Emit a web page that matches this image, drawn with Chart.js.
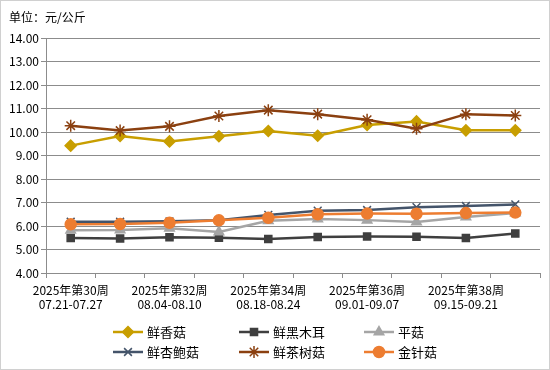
<!DOCTYPE html>
<html>
<head>
<meta charset="utf-8">
<script src="https://cdn.jsdelivr.net/npm/chart.js@4"></script>
<style>
  html, body { margin: 0; padding: 0; background: #fff; }
  #wrap { width: 550px; height: 370px; position: relative; }
</style>
</head>
<body>
<div id="wrap"><canvas id="priceChart" width="550" height="370"></canvas></div>
<script>
const weeks = ["2025年第30周", "2025年第31周", "2025年第32周", "2025年第33周", "2025年第34周",
  "2025年第35周", "2025年第36周", "2025年第37周", "2025年第38周", "2025年第39周"];
const dates = ["07.21-07.27", "07.28-08.03", "08.04-08.10", "08.11-08.17", "08.18-08.24",
  "08.25-08.31", "09.01-09.07", "09.08-09.14", "09.15-09.21", "09.22-09.28"];

const seriesNames = ["鲜香菇", "鲜黑木耳", "平菇", "鲜杏鲍菇", "鲜茶树菇", "金针菇"];
const xianxianggu = [9.42, 9.83, 9.60, 9.82, 10.04, 9.84, 10.30, 10.45, 10.07, 10.07];
const heimuer = [5.49, 5.47, 5.52, 5.50, 5.45, 5.53, 5.55, 5.54, 5.49, 5.68];
const pinggu = [5.82, 5.83, 5.90, 5.75, 6.22, 6.30, 6.25, 6.17, 6.38, 6.55];
const xingbaogu = [6.18, 6.18, 6.20, 6.25, 6.47, 6.65, 6.68, 6.80, 6.85, 6.92];
const chashugu = [10.27, 10.06, 10.24, 10.68, 10.93, 10.76, 10.52, 10.14, 10.76, 10.70];
const jinzhengu = [6.07, 6.08, 6.14, 6.24, 6.35, 6.50, 6.53, 6.52, 6.55, 6.57];

const FONT = "'Noto Sans CJK SC', 'DejaVu Sans', sans-serif";
const gridGray = "#8c8c8c";

const styles = [
  { color: "#C89E00", point: "rectRot", radius: 5.5 },
  { color: "#3f3f3f", point: "rect", radius: 5 },
  { color: "#a5a5a5", point: "triangle", radius: 5.5 },
  { color: "#44546a", point: "crossRot", radius: 5.5 },
  { color: "#8b4010", point: "star", radius: 6 },
  { color: "#ed7d31", point: "circle", radius: 5.5 }
];
const values = [xianxianggu, heimuer, pinggu, xingbaogu, chashugu, jinzhengu];

const datasets = values.map((v, i) => ({
  label: seriesNames[i],
  data: v,
  borderColor: styles[i].color,
  backgroundColor: styles[i].color,
  pointBackgroundColor: styles[i].color,
  pointBorderColor: styles[i].color,
  pointStyle: styles[i].point,
  pointRadius: styles[i].radius,
  pointBorderWidth: 1.5,
  borderWidth: 2.5,
  tension: 0,
  order: 6 - i
}));

// title, frame and the legend drawn on the canvas
const extras = {
  id: "extras",
  beforeDraw(chart) {
    const ctx = chart.ctx;
    ctx.save();
    ctx.fillStyle = "#fff";
    ctx.fillRect(0, 0, chart.width, chart.height);
    ctx.restore();
  },
  afterDraw(chart) {
    const ctx = chart.ctx;
    ctx.save();
    ctx.strokeStyle = "#d0d0d0";
    ctx.lineWidth = 1;
    ctx.strokeRect(0.5, 0.5, chart.width - 1, chart.height - 1);

    ctx.fillStyle = "#000";
    ctx.font = "12px " + FONT;
    ctx.textBaseline = "middle";
    ctx.textAlign = "left";
    ctx.fillText("单位：元/公斤", 9, 17);

    const colX = [113, 239, 364];
    const rowY = [332, 352];
    ctx.font = "13px " + FONT;
    chart.data.datasets.forEach((ds, i) => {
      const x = colX[i % 3], y = rowY[Math.floor(i / 3)];
      ctx.strokeStyle = ds.borderColor;
      ctx.fillStyle = ds.borderColor;
      ctx.lineWidth = 2.5;
      ctx.beginPath();
      ctx.moveTo(x, y);
      ctx.lineTo(x + 30, y);
      ctx.stroke();
      ctx.lineWidth = 1.5;
      Chart.helpers.drawPoint(ctx, { pointStyle: ds.pointStyle, radius: ds.pointRadius, rotation: 0, borderWidth: 1.5 }, x + 15, y);
      ctx.fillStyle = "#000";
      ctx.fillText(ds.label, x + 34, y);
    });
    ctx.restore();
  }
};

new Chart(document.getElementById("priceChart"), {
  type: "line",
  data: { labels: weeks, datasets: datasets },
  plugins: [extras],
  options: {
    responsive: false,
    animation: false,
    layout: { padding: { left: 0, right: 10, top: 38, bottom: 57 } },
    plugins: { legend: { display: false }, tooltip: { enabled: false } },
    scales: {
      x: {
        offset: true,
        afterFit: s => { s.height = 40; },
        grid: { offset: true, drawOnChartArea: false, drawTicks: true, tickLength: 5, color: gridGray },
        border: { display: true, color: gridGray },
        ticks: {
          autoSkip: false, maxRotation: 0, padding: 5, color: "#000",
          font: { family: FONT, size: 12, lineHeight: 1.2 },
          callback: (v, i) => i % 2 === 0 ? [weeks[i], dates[i]] : ""
        }
      },
      y: {
        min: 4, max: 14,
        afterFit: s => { s.width = 46; },
        grid: { color: gridGray, tickLength: 5 },
        border: { display: true, color: gridGray },
        ticks: {
          stepSize: 1, padding: 2, color: "#000",
          font: { family: FONT, size: 12 },
          callback: v => v.toFixed(2)
        }
      }
    }
  }
});
</script>
</body>
</html>
